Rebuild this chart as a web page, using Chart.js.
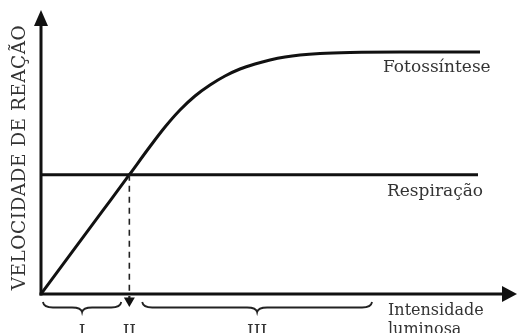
<!DOCTYPE html>
<html>
<head>
<meta charset="utf-8">
<script src="https://cdn.jsdelivr.net/npm/chart.js@4"></script>
<style>
html,body{margin:0;padding:0;background:#fff;}
#c{display:block;}
</style>
</head>
<body>
<canvas id="c" width="518" height="333"></canvas>
<script>
// ---- data ----
const photoX = [0, 13, 18.6, 22.95, 26.11, 29.26, 32.42, 35.58, 38.74, 41.89, 45.05, 48.21, 51.37, 54.53, 58.74, 65.05, 75.58, 92.42];
const photoY = [0, 29.35, 42.0, 51.94, 58.80, 64.79, 69.72, 73.59, 76.76, 79.23, 80.99, 82.39, 83.45, 84.15, 84.68, 85.04, 85.21, 85.21];
const respX = [0, 92];
const respY = [42, 42];
const crossX = 18.6;               // compensation point (II)
const zoneI = [0.4, 16.9];          // brace I range (x units)
const zoneIII = [21.3, 69.7];       // brace III range (x units)
const zoneLabels = ["I", "II", "III"];
const seriesLabels = ["Fotossíntese", "Respiração"];
const yTitle = "VELOCIDADE DE REAÇÃO";
const xTitle = ["Intensidade", "luminosa"];

const SERIF = '"DejaVu Serif", serif';
const TXT = '#333';
const INK = '#111';

function toPts(xs, ys){ return xs.map((x,i)=>({x:x, y:ys[i]})); }

function brace(ctx, x0, x1, yTop, depth){
  const mid = (x0+x1)/2;
  const y1 = yTop + depth*0.55, y2 = yTop + depth;
  const c = Math.min(10, (x1-x0)/6);
  ctx.beginPath();
  ctx.moveTo(x0, yTop);
  ctx.quadraticCurveTo(x0+1, y1, x0+c, y1);
  ctx.lineTo(mid-c, y1);
  ctx.quadraticCurveTo(mid-1, y1, mid, y2);
  ctx.quadraticCurveTo(mid+1, y1, mid+c, y1);
  ctx.lineTo(x1-c, y1);
  ctx.quadraticCurveTo(x1-1, y1, x1, yTop);
  ctx.stroke();
}

const deco = {
  id: 'deco',
  afterDatasetsDraw(chart){
    const ctx = chart.ctx;
    const xs = chart.scales.x, ys = chart.scales.y;
    const ox = xs.getPixelForValue(0), oy = ys.getPixelForValue(0);
    const top = chart.chartArea.top, right = chart.chartArea.right;
    ctx.save();
    // axes
    ctx.strokeStyle = INK; ctx.fillStyle = INK; ctx.lineWidth = 3; ctx.lineCap = 'butt';
    ctx.beginPath(); ctx.moveTo(ox, oy+1.5); ctx.lineTo(ox, top+14); ctx.stroke();
    ctx.beginPath(); ctx.moveTo(ox-1.5, oy); ctx.lineTo(right-13, oy); ctx.stroke();
    // y arrow
    ctx.beginPath(); ctx.moveTo(ox, top); ctx.lineTo(ox-7, top+16); ctx.lineTo(ox+7, top+16); ctx.closePath(); ctx.fill();
    // x arrow
    ctx.beginPath(); ctx.moveTo(right+1, oy); ctx.lineTo(right-14, oy-8); ctx.lineTo(right-14, oy+8); ctx.closePath(); ctx.fill();

    // dashed line at compensation point
    const cx = xs.getPixelForValue(crossX), cy = ys.getPixelForValue(respY[0]);
    ctx.lineWidth = 1.6; ctx.setLineDash([6,5]); ctx.strokeStyle = '#222';
    ctx.beginPath(); ctx.moveTo(cx, cy); ctx.lineTo(cx, oy-1); ctx.stroke();
    ctx.setLineDash([]);
    // small arrow below axis
    ctx.lineWidth = 2.2;
    ctx.beginPath(); ctx.moveTo(cx, oy+2); ctx.lineTo(cx, oy+6); ctx.stroke();
    ctx.beginPath(); ctx.moveTo(cx-5.5, oy+3.5); ctx.lineTo(cx+5.5, oy+3.5); ctx.lineTo(cx, oy+13); ctx.closePath(); ctx.fill();

    // braces
    ctx.strokeStyle = '#222'; ctx.lineWidth = 1.8;
    brace(ctx, xs.getPixelForValue(zoneI[0]), xs.getPixelForValue(zoneI[1]), oy+8, 10);
    brace(ctx, xs.getPixelForValue(zoneIII[0]), xs.getPixelForValue(zoneIII[1]), oy+8, 10);

    // zone labels
    ctx.fillStyle = TXT; ctx.font = '17px ' + SERIF; ctx.textAlign = 'center'; ctx.textBaseline = 'alphabetic';
    ctx.fillText(zoneLabels[0], xs.getPixelForValue((zoneI[0]+zoneI[1])/2), oy+42);
    ctx.fillText(zoneLabels[1], cx, oy+42);
    ctx.fillText(zoneLabels[2], xs.getPixelForValue((zoneIII[0]+zoneIII[1])/2), oy+42);

    // x title
    ctx.textAlign = 'left'; ctx.font = '16px ' + SERIF;
    ctx.fillText(xTitle[0], 388, oy+21);
    ctx.fillText(xTitle[1], 388, oy+40);

    // series labels
    ctx.font = '17px ' + SERIF;
    ctx.fillText(seriesLabels[0], 383, ys.getPixelForValue(photoY[photoY.length-1]) + 20);
    ctx.fillText(seriesLabels[1], 387, ys.getPixelForValue(respY[0]) + 21);

    // y title
    ctx.save();
    ctx.translate(25, 157.5);
    ctx.rotate(-Math.PI/2);
    ctx.font = '18.5px ' + SERIF;
    const w = ctx.measureText(yTitle).width;
    const target = 265;
    if ('letterSpacing' in ctx && target > w) {
      ctx.letterSpacing = ((target - w) / (yTitle.length - 1)).toFixed(2) + 'px';
    }
    ctx.textAlign = 'center';
    ctx.fillText(yTitle, 0, 0);
    ctx.restore();

    ctx.restore();
  }
};

new Chart(document.getElementById('c'), {
  type: 'line',
  data: {
    datasets: [
      { label: seriesLabels[0], data: toPts(photoX, photoY), borderColor: INK, borderWidth: 3,
        pointRadius: 0, cubicInterpolationMode: 'monotone', fill: false },
      { label: seriesLabels[1], data: toPts(respX, respY), borderColor: INK, borderWidth: 3,
        pointRadius: 0, tension: 0, fill: false }
    ]
  },
  options: {
    responsive: false,
    animation: false,
    devicePixelRatio: 1,
    layout: { padding: { left: 41, right: 2, top: 10, bottom: 39 } },
    scales: {
      x: { type: 'linear', min: 0, max: 100, display: false },
      y: { type: 'linear', min: 0, max: 100, display: false }
    },
    plugins: { legend: { display: false }, tooltip: { enabled: false }, title: { display: false } }
  },
  plugins: [deco]
});
</script>
</body>
</html>
